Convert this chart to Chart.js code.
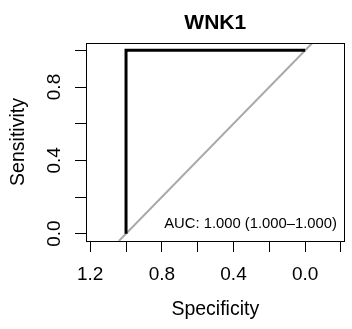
<!DOCTYPE html>
<html>
<head>
<meta charset="utf-8">
<script src="https://cdn.jsdelivr.net/npm/chart.js@4"></script>
<style>
html, body { margin: 0; padding: 0; background: #fff; }
</style>
</head>
<body>
<canvas id="roc" width="352" height="329"></canvas>
<script>
// data
var chartTitle = 'WNK1';
var aucText = 'AUC: 1.000 (1.000\u20131.000)';
var rocSpecificity = [1.0, 1.0, 0.0];
var rocSensitivity = [0.0, 1.0, 1.0];
var xTickValues = [1.2, 1.0, 0.8, 0.6, 0.4, 0.2, 0.0, -0.2];
var xTickLabels = ['1.2', '', '0.8', '', '0.4', '', '0.0', ''];
var yTickValues = [0.0, 0.2, 0.4, 0.6, 0.8, 1.0];
var yTickLabels = ['0.0', '', '0.4', '', '0.8', ''];

var xLimits = [-0.22, 1.2235];
var yLimits = [-0.04, 1.04];
var aucAt = { x: 0.787, y: 0.031 };
var fontFamily = '"Liberation Sans", Arial, sans-serif';

var rocPoints = rocSpecificity.map(function(s, i) {
  return { x: s, y: rocSensitivity[i] };
});
// identity line (sens = 1 - spec) across the y range
var identityPoints = yLimits.map(function(y) {
  return { x: 1 - y, y: y };
});

var extras = {
  id: 'extras',
  afterDraw: function(chart) {
    var ctx = chart.ctx, a = chart.chartArea;
    var xs = chart.scales.x, ys = chart.scales.y;
    ctx.save();
    ctx.strokeStyle = '#000';
    ctx.lineWidth = 1;
    ctx.strokeRect(Math.round(a.left) + 0.5, Math.round(a.top) + 0.5,
      Math.round(a.right - a.left) - 1, Math.round(a.bottom - a.top));

    ctx.fillStyle = '#000';
    ctx.font = '19px ' + fontFamily;
    ctx.textAlign = 'center';
    ctx.textBaseline = 'alphabetic';
    for (var i = 0; i < yTickValues.length; i++) {
      if (!yTickLabels[i]) continue;
      var py = ys.getPixelForValue(yTickValues[i]);
      ctx.save();
      ctx.translate(60, py);
      ctx.rotate(-Math.PI / 2);
      ctx.fillText(yTickLabels[i], 0, 0);
      ctx.restore();
    }

    ctx.font = 'bold 21px ' + fontFamily;
    ctx.fillText(chartTitle, (a.left + a.right) / 2, 29);

    ctx.font = '14.8px ' + fontFamily;
    ctx.textAlign = 'left';
    ctx.fillText(aucText, xs.getPixelForValue(aucAt.x), ys.getPixelForValue(aucAt.y));
    ctx.restore();
  }
};

new Chart(document.getElementById('roc'), {
  type: 'line',
  data: {
    datasets: [{
      data: rocPoints,
      borderColor: '#000',
      borderWidth: 3,
      pointRadius: 0,
      tension: 0
    }, {
      data: identityPoints,
      borderColor: '#A9A9A9',
      borderWidth: 2,
      pointRadius: 0,
      tension: 0
    }]
  },
  options: {
    responsive: false,
    animation: false,
    layout: { padding: { top: 43, right: 1, left: 0, bottom: 0 } },
    plugins: { legend: { display: false }, tooltip: { enabled: false } },
    scales: {
      x: {
        type: 'linear',
        reverse: true,
        min: xLimits[0],
        max: xLimits[1],
        afterBuildTicks: function(scale) {
          scale.ticks = xTickValues.map(function(v) { return { value: v }; });
        },
        afterFit: function(scale) { scale.height = 88; },
        ticks: {
          autoSkip: false,
          maxRotation: 0,
          padding: 11,
          color: '#000',
          font: { family: fontFamily, size: 19 },
          callback: function(value, index) { return xTickLabels[index]; }
        },
        grid: { drawOnChartArea: false, tickLength: 11, tickColor: '#000' },
        border: { display: true, color: '#000' },
        title: {
          display: true,
          text: 'Specificity',
          color: '#000',
          font: { family: fontFamily, size: 19.5 },
          padding: { top: 0, bottom: 8 }
        }
      },
      y: {
        type: 'linear',
        min: yLimits[0],
        max: yLimits[1],
        afterBuildTicks: function(scale) {
          scale.ticks = yTickValues.map(function(v) { return { value: v }; });
        },
        afterFit: function(scale) { scale.width = 86; },
        ticks: { display: false },
        grid: { drawOnChartArea: false, tickLength: 11, tickColor: '#000' },
        border: { display: true, color: '#000' },
        title: {
          display: true,
          text: 'Sensitivity',
          color: '#000',
          font: { family: fontFamily, size: 19.5 },
          padding: { top: 7, bottom: 0 }
        }
      }
    }
  },
  plugins: [extras]
});
</script>
</body>
</html>
